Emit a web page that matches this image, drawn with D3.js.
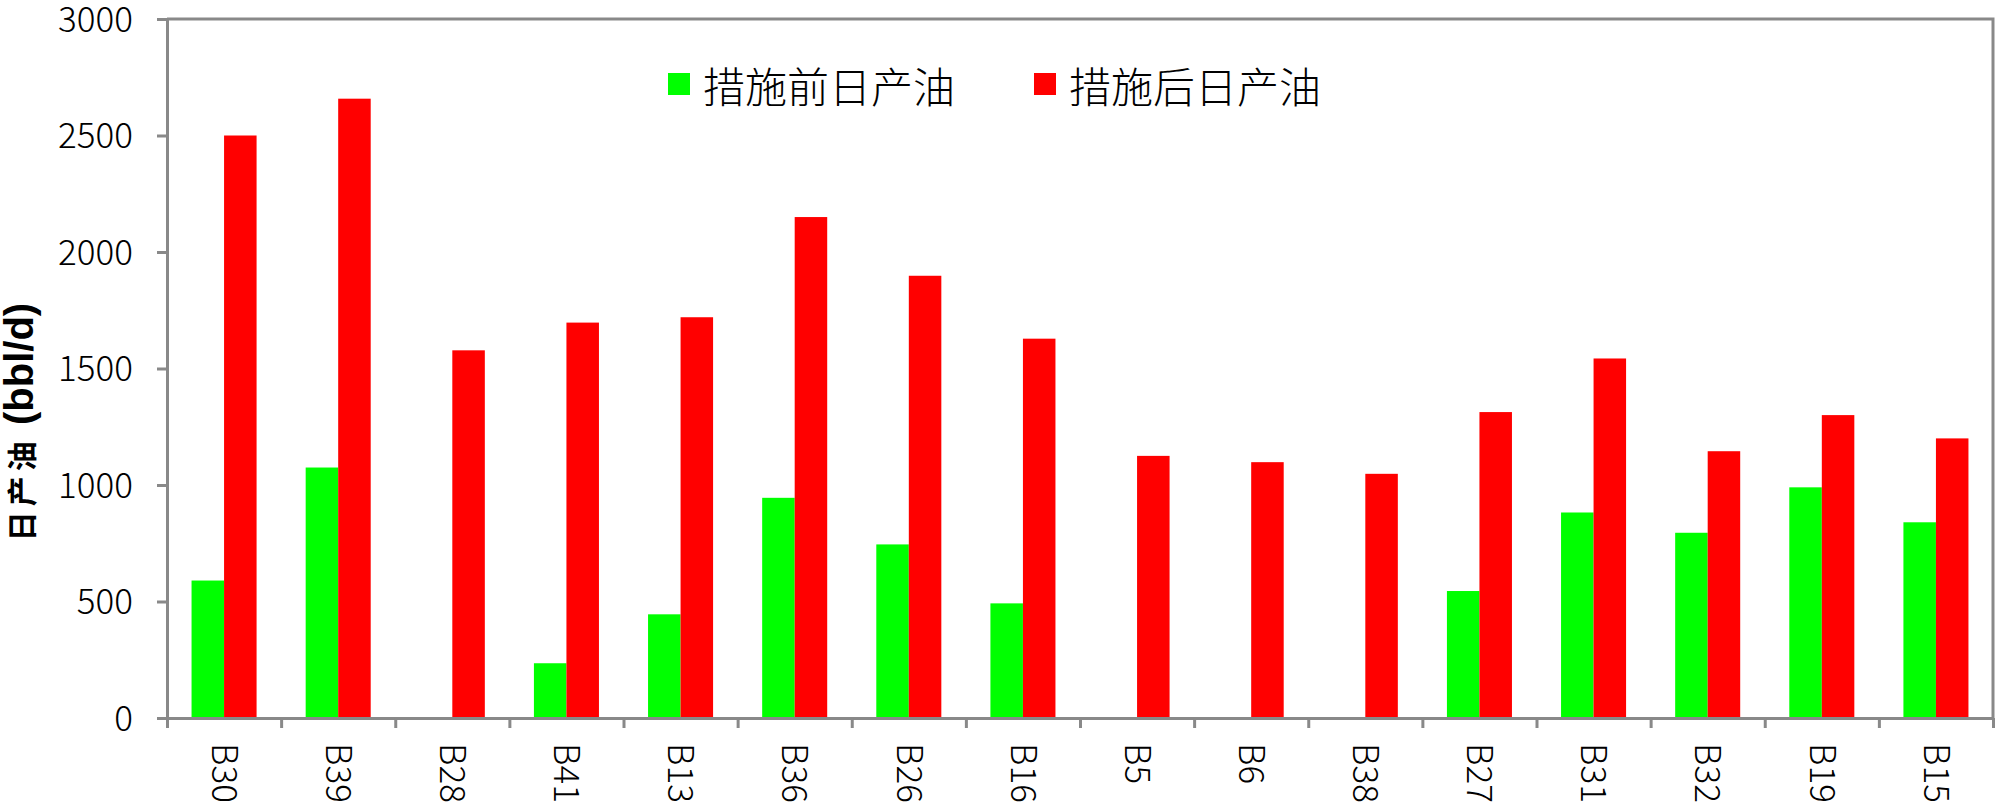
<!DOCTYPE html>
<html>
<head>
<meta charset="utf-8">
<script src="https://cdn.jsdelivr.net/npm/d3@7"></script>
<style>
  body { margin: 0; background: #fff; }
  svg text { font-family: "Noto Sans CJK SC", "Noto Sans", sans-serif; fill: #000; }
  .axis path, .axis line { stroke: #898989; stroke-width: 3; }
  .axis text { font-size: 35px; font-weight: 300; }
</style>
</head>
<body>
<div id="chart"></div>
<script>
// well names along the x axis
var wells = ["B30", "B39", "B28", "B41", "B13", "B36", "B26", "B16",
             "B5", "B6", "B38", "B27", "B31", "B32", "B19", "B15"];

// daily oil before the measure (bbl/d), 0 where there is no bar
var before = [590, 1075, 0, 235, 445, 945, 745, 492,
              0, 0, 0, 545, 882, 795, 990, 840];

// daily oil after the measure (bbl/d)
var after = [2500, 2658, 1578, 1697, 1720, 2150, 1898, 1628,
             1125, 1098, 1048, 1313, 1543, 1145, 1300, 1200];

var seriesNames = ["措施前日产油", "措施后日产油"];
var seriesColors = ["#00ff00", "#ff0000"];
var yTicks = [0, 500, 1000, 1500, 2000, 2500, 3000];

var svgWidth = 2000;
var svgHeight = 805;

var margin = {
    top: 19,
    right: 7,
    bottom: 87,
    left: 167
};

var width = svgWidth - margin.left - margin.right;
var height = svgHeight - margin.top - margin.bottom;

var svg = d3.select("#chart").append("svg")
    .attr("width", svgWidth)
    .attr("height", svgHeight);

var chartGroup = svg.append("g")
    .attr("transform", `translate(${margin.left}, ${margin.top})`);

var x = d3.scaleBand()
    .domain(wells)
    .range([0, width])
    .padding(0);

var xSub = d3.scaleBand()
    .domain([0, 1])
    .range([0, x.bandwidth()])
    .paddingInner(0)
    .paddingOuter(0.755);

var y = d3.scaleLinear()
    .domain([0, 3000])
    .range([height, 0]);

var rows = wells.map(function (w, i) {
    return { well: w, values: [before[i], after[i]] };
});

// bars
var groups = chartGroup.selectAll(".well")
    .data(rows)
    .enter()
    .append("g")
    .attr("class", "well")
    .attr("transform", d => `translate(${x(d.well)}, 0)`);

groups.selectAll("rect")
    .data(d => d.values.map((v, k) => ({ k: k, v: v })))
    .enter()
    .append("rect")
    .attr("x", d => xSub(d.k))
    .attr("width", xSub.bandwidth())
    .attr("y", d => y(d.v))
    .attr("height", d => height - y(d.v))
    .attr("fill", d => seriesColors[d.k]);

// frame on top and right
chartGroup.append("path")
    .attr("d", `M0,${y(3000)}H${width}V${height}`)
    .attr("fill", "none")
    .attr("stroke", "#898989")
    .attr("stroke-width", 3);

// y axis
chartGroup.append("g")
    .attr("class", "axis")
    .call(d3.axisLeft(y).tickValues(yTicks).tickFormat(d3.format("d"))
        .tickSize(10).tickPadding(24).tickSizeOuter(0))
    .selectAll("text")
    .attr("dy", "0.35em");

// x axis: tick marks sit on the category boundaries
var edges = d3.scaleLinear().domain([0, wells.length]).range([0, width]);
chartGroup.append("g")
    .attr("class", "axis")
    .attr("transform", `translate(0, ${height})`)
    .call(d3.axisBottom(edges).ticks(wells.length).tickFormat("").tickSize(10).tickSizeOuter(0));

var xAxis = chartGroup.append("g")
    .attr("class", "axis")
    .attr("transform", `translate(0, ${height})`)
    .call(d3.axisBottom(x).tickSize(0));

xAxis.select(".domain").remove();
xAxis.selectAll("text")
    .attr("y", 0)
    .attr("x", 25)
    .attr("dy", "0.35em")
    .attr("transform", "rotate(90)")
    .style("text-anchor", "start");

// y title, CJK part and unit part in different sizes
var title = svg.append("text")
    .attr("transform", "translate(33, 422) rotate(-90)")
    .attr("text-anchor", "middle")
    .style("font-weight", "bold");

title.append("tspan")
    .style("font-size", "30px")
    .style("letter-spacing", "5px")
    .text("日产油");

title.append("tspan")
    .style("font-size", "40px")
    .style("font-family", "'Liberation Sans', Arial, sans-serif")
    .text(" (bbl/d)");

// legend
var legendX = [668, 1034];
var legend = svg.selectAll(".legend")
    .data(seriesNames)
    .enter()
    .append("g")
    .attr("class", "legend")
    .attr("transform", (d, i) => `translate(${legendX[i]}, 84)`);

legend.append("rect")
    .attr("x", 0)
    .attr("y", -11)
    .attr("width", 22)
    .attr("height", 22)
    .attr("fill", (d, i) => seriesColors[i]);

legend.append("text")
    .attr("x", 35)
    .attr("y", 0)
    .attr("dominant-baseline", "central")
    .style("font-size", "42px")
    .style("font-weight", 300)
    .text(d => d);
</script>
</body>
</html>
